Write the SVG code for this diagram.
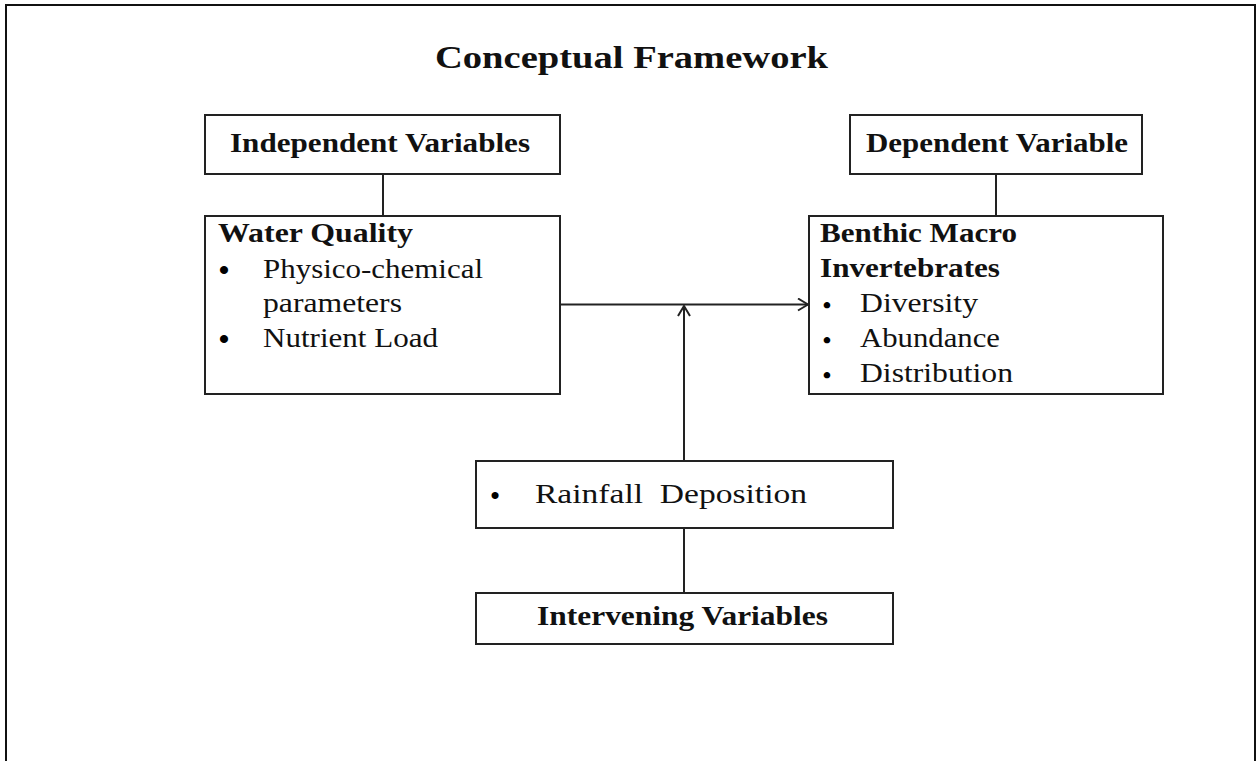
<svg xmlns="http://www.w3.org/2000/svg" width="1257" height="761" viewBox="0 0 1257 761">
<style>
.box{fill:#fff;stroke:#222;stroke-width:2}
.ln{fill:none;stroke:#222;stroke-width:2}
.t{font-family:"Liberation Serif","Times New Roman",serif;font-size:28px;fill:#111;white-space:pre}
.b{font-weight:bold}
.bul{font-family:"Liberation Serif","Times New Roman",serif;fill:#000;font-weight:bold}
.title{font-family:"Liberation Serif","Times New Roman",serif;font-size:32px;font-weight:bold;fill:#111}
</style>
<defs>
<marker id="arr" viewBox="0 0 12 14" refX="11" refY="7" markerWidth="12" markerHeight="14" markerUnits="userSpaceOnUse" orient="auto">
<path d="M1,1 L11,7 L1,13" fill="none" stroke="#222" stroke-width="2"/>
</marker>
</defs>
<rect x="0" y="0" width="1257" height="761" fill="#fff"/>
<path d="M6,761 L6,5 L1255,5 L1255,761" fill="none" stroke="#111" stroke-width="2"/>
<text class="title" x="435" y="68" textLength="393" lengthAdjust="spacingAndGlyphs">Conceptual Framework</text>

<g id="connectors">
<line class="ln" x1="383" y1="174" x2="383" y2="216"/>
<line class="ln" x1="996" y1="174" x2="996" y2="216"/>
<line class="ln" x1="560" y1="304.5" x2="808" y2="304.5" marker-end="url(#arr)"/>
<line class="ln" x1="684" y1="461" x2="684" y2="306" marker-end="url(#arr)"/>
<line class="ln" x1="684" y1="528" x2="684" y2="593"/>
</g>

<g id="independent">
<rect class="box" x="205" y="115" width="355" height="59"/>
<text class="t b" x="230" y="152" textLength="300" lengthAdjust="spacingAndGlyphs">Independent Variables</text>
</g>

<g id="dependent">
<rect class="box" x="850" y="115" width="292" height="59"/>
<text class="t b" x="866" y="152" textLength="262" lengthAdjust="spacingAndGlyphs">Dependent Variable</text>
</g>

<g id="water-quality">
<rect class="box" x="205" y="216" width="355" height="178"/>
<text class="t b" x="218" y="242" textLength="195" lengthAdjust="spacingAndGlyphs">Water Quality</text>
<text class="bul" x="224" y="280" text-anchor="middle" font-size="30">•</text>
<text class="t" x="263" y="278" textLength="220" lengthAdjust="spacingAndGlyphs">Physico-chemical</text>
<text class="t" x="263" y="312" textLength="139" lengthAdjust="spacingAndGlyphs">parameters</text>
<text class="bul" x="224" y="349" text-anchor="middle" font-size="30">•</text>
<text class="t" x="263" y="347" textLength="175" lengthAdjust="spacingAndGlyphs">Nutrient Load</text>
</g>

<g id="benthic">
<rect class="box" x="809" y="216" width="354" height="178"/>
<text class="t b" x="820" y="242" textLength="197" lengthAdjust="spacingAndGlyphs">Benthic Macro</text>
<text class="t b" x="820" y="277" textLength="180" lengthAdjust="spacingAndGlyphs">Invertebrates</text>
<text class="bul" x="827" y="313" text-anchor="middle" font-size="24">•</text>
<text class="t" x="860" y="312" textLength="118" lengthAdjust="spacingAndGlyphs">Diversity</text>
<text class="bul" x="827" y="348" text-anchor="middle" font-size="24">•</text>
<text class="t" x="860" y="347" textLength="140" lengthAdjust="spacingAndGlyphs">Abundance</text>
<text class="bul" x="827" y="383" text-anchor="middle" font-size="24">•</text>
<text class="t" x="860" y="382" textLength="153" lengthAdjust="spacingAndGlyphs">Distribution</text>
</g>

<g id="rainfall">
<rect class="box" x="476" y="461" width="417" height="67"/>
<text class="bul" x="495" y="504" text-anchor="middle" font-size="26">•</text>
<text class="t" x="535" y="503" textLength="272" lengthAdjust="spacingAndGlyphs">Rainfall  Deposition</text>
</g>

<g id="intervening">
<rect class="box" x="476" y="593" width="417" height="51"/>
<text class="t b" x="537" y="625" textLength="291" lengthAdjust="spacingAndGlyphs">Intervening Variables</text>
</g>
</svg>
